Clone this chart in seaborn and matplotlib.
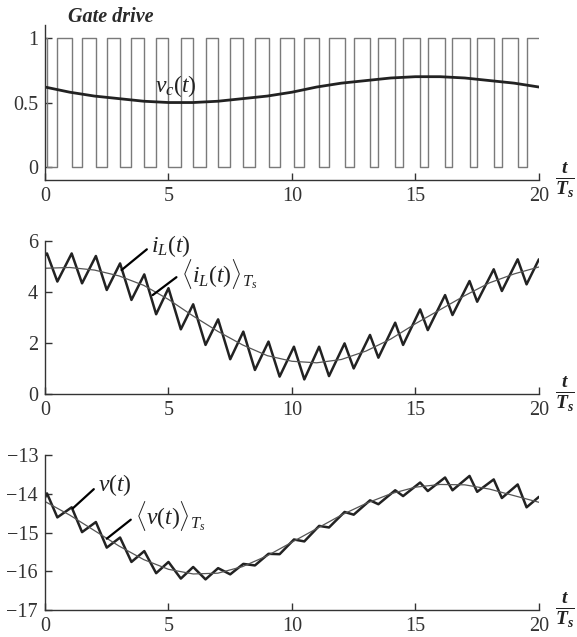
"""
Buck-boost waveforms: gate drive, inductor current and output voltage
"""
import numpy as np
import pandas as pd
import matplotlib
matplotlib.use("Agg")
import matplotlib.pyplot as plt
import seaborn as sns

# switching instants (t / Ts)
t_off = [0.08, 1.08, 2.06, 3.04, 4.02, 5.0, 6.0, 7.01, 8.03, 9.05,
         10.08, 11.1, 12.13, 13.16, 14.18, 15.19, 16.2, 17.19, 18.17, 19.14]
t_on = [0.5, 1.5, 2.5, 3.5, 4.5, 5.5, 6.5, 7.5, 8.5, 9.5,
        10.5, 11.5, 12.5, 13.5, 14.5, 15.5, 16.5, 17.5, 18.5, 19.5]

# control voltage v_c(t), sampled at t = 0..20
t_avg = list(range(21))
vc = [0.62, 0.58, 0.55, 0.53, 0.51, 0.50, 0.50, 0.51, 0.53, 0.55, 0.58,
      0.62, 0.65, 0.67, 0.69, 0.70, 0.70, 0.69, 0.67, 0.65, 0.62]

# inductor current: values at turn-off (peaks) and turn-on (valleys)
iL_start, iL_end = 5.42, 5.27
iL_peak = [5.5, 5.5, 5.4, 5.11, 4.68, 4.14, 3.51, 2.92, 2.44, 2.05,
           1.85, 1.85, 1.98, 2.31, 2.79, 3.31, 3.87, 4.42, 4.88, 5.27]
iL_valley = [4.4, 4.33, 4.07, 3.68, 3.12, 2.53, 1.92, 1.36, 0.94, 0.68,
             0.57, 0.7, 1.0, 1.42, 1.92, 2.5, 3.09, 3.61, 4.03, 4.29]
iL_avg = [4.92, 4.95, 4.85, 4.62, 4.25, 3.7, 3.05, 2.45, 1.92, 1.5, 1.28,
          1.22, 1.35, 1.68, 2.15, 2.75, 3.3, 3.85, 4.35, 4.7, 4.97]

# output voltage
v_start, v_end = -14.1, -14.08
v_peak = [-13.99, -14.35, -14.73, -15.13, -15.48, -15.76, -15.89, -15.92, -15.81, -15.55,
          -15.18, -14.83, -14.47, -14.17, -13.91, -13.71, -13.58, -13.54, -13.63, -13.76]
v_valley = [-14.61, -14.99, -15.39, -15.76, -16.05, -16.19, -16.21, -16.08, -15.85, -15.56,
            -15.23, -14.87, -14.54, -14.27, -14.06, -13.93, -13.91, -13.95, -14.11, -14.35]
v_avg = [-14.2, -14.55, -14.95, -15.35, -15.7, -15.95, -16.07, -16.05, -15.88, -15.6, -15.25,
         -14.9, -14.55, -14.25, -14.0, -13.83, -13.76, -13.77, -13.88, -14.05, -14.22]

# build waveform tables
t_sw = [0.0]
gate = [1]
iL = [iL_start]
v = [v_start]
for k in range(len(t_off)):
    t_sw += [t_off[k], t_on[k]]
    gate += [0, 1]
    iL += [iL_peak[k], iL_valley[k]]
    v += [v_peak[k], v_valley[k]]
t_sw.append(20.0)
gate.append(1)
iL.append(iL_end)
v.append(v_end)
wave = pd.DataFrame({"t": t_sw, "gate": gate, "iL": iL, "v": v})
avg = pd.DataFrame({"t": t_avg, "vc": vc, "iL": iL_avg, "v": v_avg})

sns.set_theme(style="ticks")
plt.rcParams["font.family"] = ["Liberation Serif", "DejaVu Serif"]
plt.rcParams["mathtext.fontset"] = "custom"
plt.rcParams["mathtext.rm"] = "Liberation Serif"
plt.rcParams["mathtext.it"] = "Liberation Serif:italic"
plt.rcParams["mathtext.bf"] = "Liberation Serif:bold:italic"

DARK = "#222222"
AXC = "#333333"
LBL = 17

fig = plt.figure(figsize=(5.77, 6.37), dpi=100)
left, width = 0.078, 0.856
ax1 = fig.add_axes([left, 0.7174, width, 0.2433])
ax2 = fig.add_axes([left, 0.3815, width, 0.2407])
ax3 = fig.add_axes([left, 0.0424, width, 0.2433])

# gate drive and control voltage
sns.lineplot(data=wave, x="t", y="gate", ax=ax1, color="#7a7a7a", lw=1.0,
             drawstyle="steps-post", estimator=None, sort=False)
sns.lineplot(data=avg, x="t", y="vc", ax=ax1, color=DARK, lw=2.0, estimator=None)
ax1.set_ylim(-0.1, 1.1)
ax1.set_yticks([0, 0.5, 1])
ax1.set_yticklabels(["0", "0.5", "1"])
ax1.text(2.65, 1.16, "Gate drive", style="italic", weight="bold", fontsize=14.5,
         color="#2a2a2a", ha="center", va="center", clip_on=False)
ax1.text(5.3, 0.625, r"$v_c(t)$", fontsize=LBL, color=DARK, ha="center", va="center")

# inductor current
sns.lineplot(data=wave, x="t", y="iL", ax=ax2, color=DARK, lw=1.8, estimator=None, sort=False)
sns.lineplot(data=avg, x="t", y="iL", ax=ax2, color="#555555", lw=0.9, estimator=None)
ax2.set_ylim(0, 6)
ax2.set_yticks([0, 2, 4, 6])
lead = dict(arrowstyle="-", lw=1.6, color="black", shrinkA=1, shrinkB=0, relpos=(0, 0.5))
ax2.annotate(r"$i_L(t)$", xy=(3.1, 4.85), xytext=(4.3, 5.8), fontsize=LBL, color=DARK,
             ha="left", va="center", arrowprops=lead)
ax2.annotate(r"$\langle i_L(t)\rangle_{T_s}$", xy=(4.36, 3.87), xytext=(5.5, 4.7),
             fontsize=LBL, color=DARK, ha="left", va="center", arrowprops=lead)

# output voltage
sns.lineplot(data=wave, x="t", y="v", ax=ax3, color=DARK, lw=1.8, estimator=None, sort=False)
sns.lineplot(data=avg, x="t", y="v", ax=ax3, color="#555555", lw=0.9, estimator=None)
ax3.set_ylim(-17, -13)
ax3.set_yticks([-17, -16, -15, -14, -13])
ax3.annotate(r"$v(t)$", xy=(1.12, -14.38), xytext=(2.15, -13.78), fontsize=LBL, color=DARK,
             ha="left", va="center", arrowprops=lead)
ax3.annotate(r"$\langle v(t)\rangle_{T_s}$", xy=(2.5, -15.16), xytext=(3.65, -14.58),
             fontsize=LBL, color=DARK, ha="left", va="center", arrowprops=lead)

for ax in (ax1, ax2, ax3):
    ax.set_xlim(0, 20)
    ax.set_xticks([0, 5, 10, 15, 20])
    ax.set_xlabel("")
    ax.set_ylabel("")
    sns.despine(ax=ax)
    for s in ("left", "bottom"):
        ax.spines[s].set_color(AXC)
        ax.spines[s].set_linewidth(1.0)
    ax.tick_params(direction="in", length=5, width=1.0, color=AXC,
                   labelsize=14.5, labelcolor=AXC)
    ax.tick_params(axis="x", pad=5)
    ax.tick_params(axis="y", pad=5)
    ax.text(21.05, 0.0, r"$\mathbf{\frac{t}{T_s}}$", transform=ax.get_xaxis_transform(),
            fontsize=20, color=DARK, ha="center", va="center", clip_on=False)

fig.savefig("out.png", dpi=100)
